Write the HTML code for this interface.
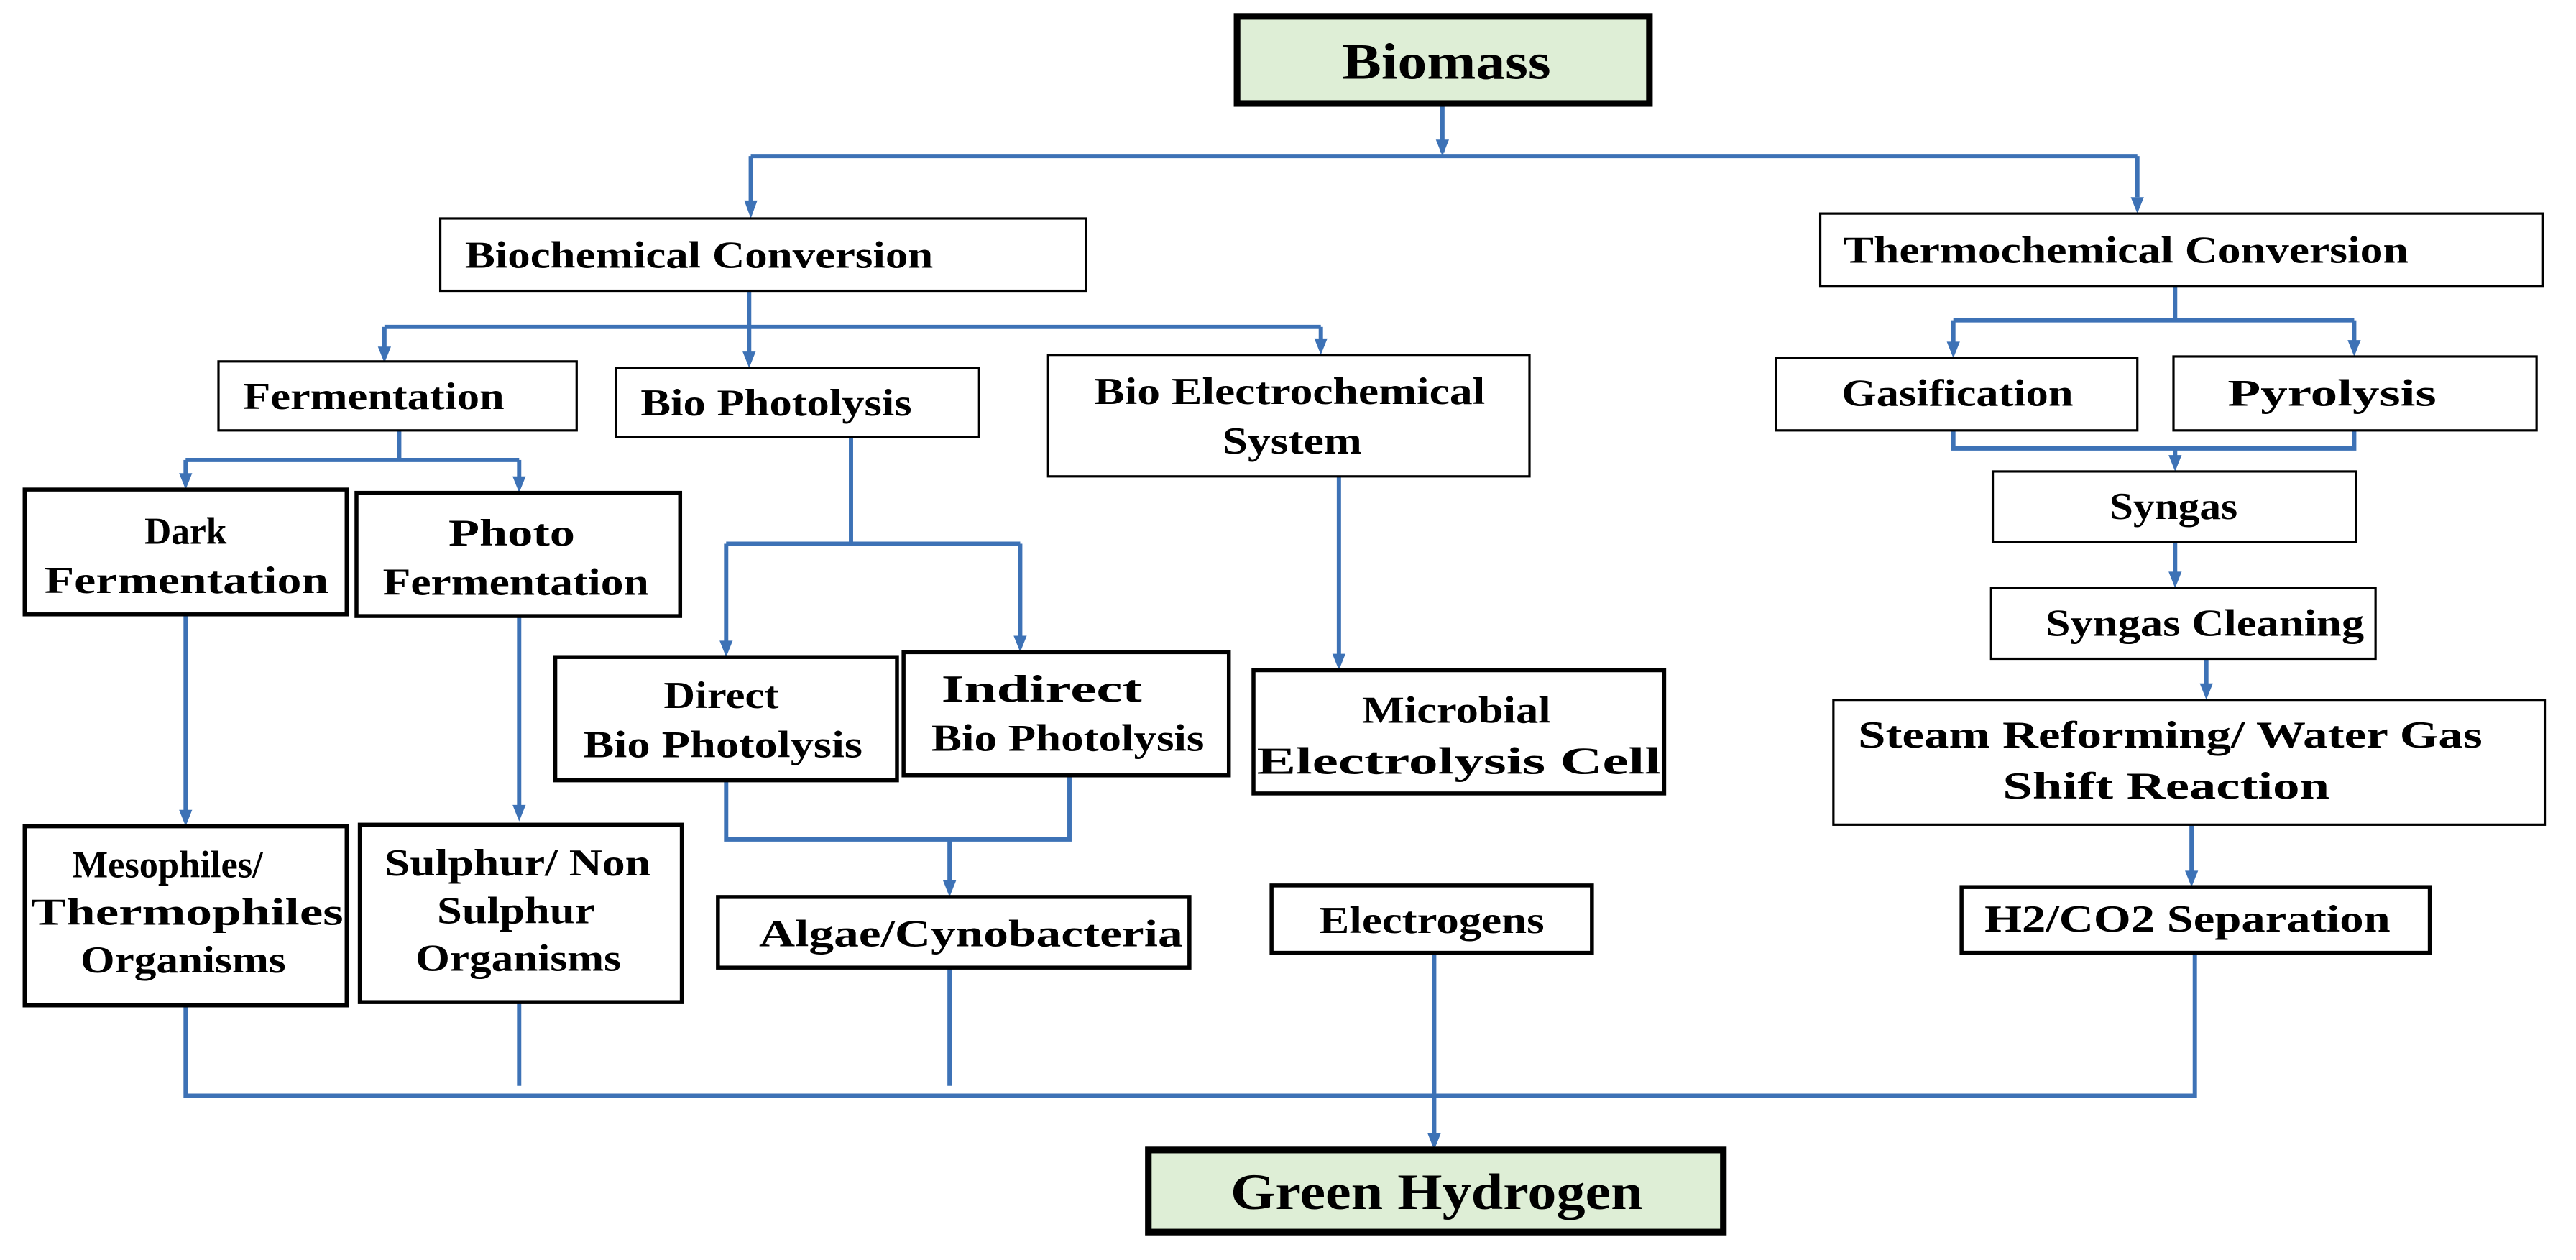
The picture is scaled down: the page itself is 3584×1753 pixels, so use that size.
<!DOCTYPE html>
<html><head><meta charset="utf-8"><style>
html,body{margin:0;padding:0;background:#fff;}
svg{display:block;}
text{font-family:"Liberation Serif",serif;font-weight:bold;fill:#000;}
</style></head><body>
<svg width="3584" height="1753" viewBox="0 0 1568 767" preserveAspectRatio="none" xmlns="http://www.w3.org/2000/svg">
<g fill="none" stroke="#3d72b6" stroke-width="2.6">
<path d="M878 64V93"/>
<path d="M457 95H1301"/><path d="M457 95V123"/><path d="M1301 95V120"/>
<path d="M456 177V199"/><path d="M234 199H804"/><path d="M234 199V212"/><path d="M456 199V215"/><path d="M804 199V207"/>
<path d="M243 262V280"/><path d="M113 280H316"/><path d="M113 280V289"/><path d="M316 280V291"/>
<path d="M518 266V331"/><path d="M442 331H621"/><path d="M442 331V391"/><path d="M621 331V388"/>
<path d="M815 290V399"/>
<path d="M113 374V494"/><path d="M316 375V491"/>
<path d="M442 475V511H651V472"/><path d="M578 511V537"/>
<path d="M1324 174V195"/><path d="M1189 195H1433"/><path d="M1189 195V209"/><path d="M1433 195V208"/>
<path d="M1189 262V273H1433V262"/><path d="M1324 273V278"/>
<path d="M1324 330V349"/><path d="M1343 401V417"/><path d="M1334 502V531"/>
<path d="M113 612V667H1336V580"/><path d="M316 610V661"/><path d="M578 589V661"/><path d="M873 580V691"/>
</g>
<g fill="#3d72b6">
<polygon points="874,85 882,85 878,95"/>
<polygon points="453,122 461,122 457,133"/>
<polygon points="1297,120 1305,120 1301,130"/>
<polygon points="230,211 238,211 234,221"/>
<polygon points="452,214 460,214 456,224"/>
<polygon points="800,206 808,206 804,216"/>
<polygon points="109,288 117,288 113,298"/>
<polygon points="312,290 320,290 316,300"/>
<polygon points="438,390 446,390 442,400"/>
<polygon points="617,387 625,387 621,397"/>
<polygon points="811,398 819,398 815,408"/>
<polygon points="109,493 117,493 113,503"/>
<polygon points="312,490 320,490 316,500"/>
<polygon points="574,536 582,536 578,546"/>
<polygon points="1185,208 1193,208 1189,218"/>
<polygon points="1429,207 1437,207 1433,217"/>
<polygon points="1320,277 1328,277 1324,287"/>
<polygon points="1320,348 1328,348 1324,358"/>
<polygon points="1339,416 1347,416 1343,426"/>
<polygon points="1330,530 1338,530 1334,540"/>
<polygon points="869,690 877,690 873,700"/>
</g>
<g stroke="#000" fill="#fff">
<rect x="753" y="10" width="251" height="53" fill="#deeed6" stroke-width="4"/>
<rect x="699" y="700" width="350" height="50" fill="#deeed6" stroke-width="4"/>
<g stroke-width="1.4">
<rect x="268" y="133" width="393" height="44"/>
<rect x="1108" y="130" width="440" height="44"/>
<rect x="133" y="220" width="218" height="42"/>
<rect x="375" y="224" width="221" height="42"/>
<rect x="638" y="216" width="293" height="74"/>
<rect x="1081" y="218" width="220" height="44"/>
<rect x="1323" y="217" width="221" height="45"/>
<rect x="1213" y="287" width="221" height="43"/>
<rect x="1212" y="358" width="234" height="43"/>
<rect x="1116" y="426" width="433" height="76"/>
</g>
<g stroke-width="2.4">
<rect x="15" y="298" width="196" height="76"/>
<rect x="217" y="300" width="197" height="75"/>
<rect x="338" y="400" width="208" height="75"/>
<rect x="550" y="397" width="198" height="75"/>
<rect x="763" y="408" width="250" height="75"/>
<rect x="15" y="503" width="196" height="109"/>
<rect x="219" y="502" width="196" height="108"/>
<rect x="437" y="546" width="287" height="43"/>
<rect x="774" y="539" width="195" height="41"/>
<rect x="1194" y="540" width="285" height="40"/>
</g>
</g>
<g font-size="23" lengthAdjust="spacingAndGlyphs">
<text x="817" y="48" font-size="31" textLength="127" lengthAdjust="spacingAndGlyphs">Biomass</text>
<text x="749" y="736" font-size="31" textLength="251" lengthAdjust="spacingAndGlyphs">Green Hydrogen</text>
<text x="283" y="163" textLength="285" lengthAdjust="spacingAndGlyphs">Biochemical Conversion</text>
<text x="1122" y="160" textLength="344" lengthAdjust="spacingAndGlyphs">Thermochemical  Conversion</text>
<text x="148" y="249" textLength="159" lengthAdjust="spacingAndGlyphs">Fermentation</text>
<text x="390" y="253" textLength="165" lengthAdjust="spacingAndGlyphs">Bio Photolysis</text>
<text x="666" y="246" textLength="238" lengthAdjust="spacingAndGlyphs">Bio Electrochemical</text>
<text x="744" y="276" textLength="85" lengthAdjust="spacingAndGlyphs">System</text>
<text x="88" y="331" textLength="50" lengthAdjust="spacingAndGlyphs">Dark</text>
<text x="27" y="361" textLength="173" lengthAdjust="spacingAndGlyphs">Fermentation</text>
<text x="273" y="332" textLength="77" lengthAdjust="spacingAndGlyphs">Photo</text>
<text x="233" y="362" textLength="162" lengthAdjust="spacingAndGlyphs">Fermentation</text>
<text x="404" y="431" textLength="70" lengthAdjust="spacingAndGlyphs">Direct</text>
<text x="355" y="461" textLength="170" lengthAdjust="spacingAndGlyphs">Bio Photolysis</text>
<text x="573" y="427" textLength="122" lengthAdjust="spacingAndGlyphs">Indirect</text>
<text x="567" y="457" textLength="166" lengthAdjust="spacingAndGlyphs">Bio Photolysis</text>
<text x="829" y="440" textLength="115" lengthAdjust="spacingAndGlyphs">Microbial</text>
<text x="765" y="471" textLength="246" lengthAdjust="spacingAndGlyphs">Electrolysis  Cell</text>
<text x="44" y="534" textLength="116" lengthAdjust="spacingAndGlyphs">Mesophiles/</text>
<text x="19" y="563" textLength="190" lengthAdjust="spacingAndGlyphs">Thermophiles</text>
<text x="49" y="592" textLength="125" lengthAdjust="spacingAndGlyphs">Organisms</text>
<text x="234" y="533" textLength="162" lengthAdjust="spacingAndGlyphs">Sulphur/  Non</text>
<text x="266" y="562" textLength="96" lengthAdjust="spacingAndGlyphs">Sulphur</text>
<text x="253" y="591" textLength="125" lengthAdjust="spacingAndGlyphs">Organisms</text>
<text x="462" y="576" textLength="258" lengthAdjust="spacingAndGlyphs">Algae/Cynobacteria</text>
<text x="803" y="568" textLength="137" lengthAdjust="spacingAndGlyphs">Electrogens</text>
<text x="1121" y="247" textLength="141" lengthAdjust="spacingAndGlyphs">Gasification</text>
<text x="1356" y="247" textLength="127" lengthAdjust="spacingAndGlyphs">Pyrolysis</text>
<text x="1284" y="316" textLength="78" lengthAdjust="spacingAndGlyphs">Syngas</text>
<text x="1245" y="387" textLength="194" lengthAdjust="spacingAndGlyphs">Syngas Cleaning</text>
<text x="1131" y="455" textLength="380" lengthAdjust="spacingAndGlyphs">Steam Reforming/  Water Gas</text>
<text x="1219" y="486" textLength="199" lengthAdjust="spacingAndGlyphs">Shift Reaction</text>
<text x="1208" y="567" textLength="247" lengthAdjust="spacingAndGlyphs">H2/CO2 Separation</text>
</g>
</svg>
</body></html>
